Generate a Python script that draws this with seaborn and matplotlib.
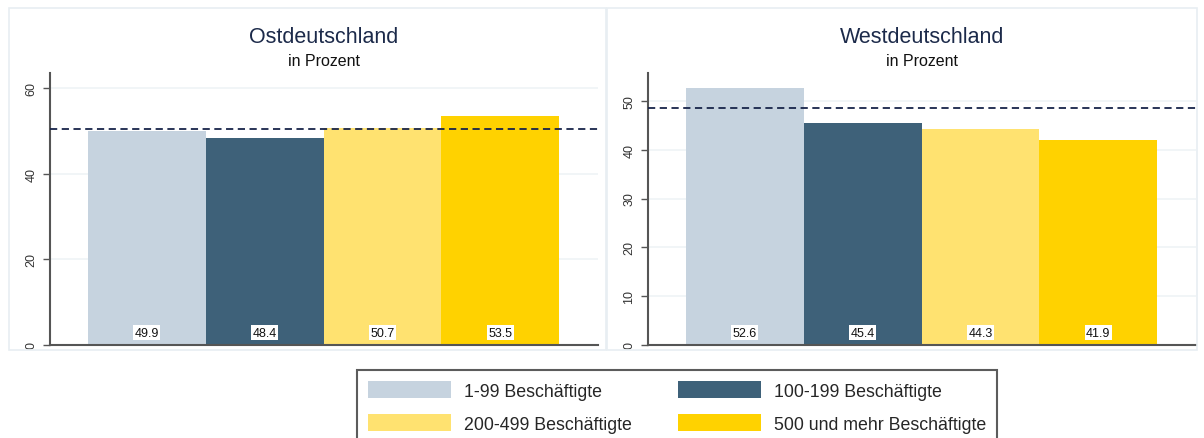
import pandas as pd
import matplotlib
matplotlib.use("Agg")
import matplotlib.pyplot as plt
from matplotlib.patches import Rectangle, Patch
import seaborn as sns

# data
groups = ["1-99 Beschäftigte", "100-199 Beschäftigte",
          "200-499 Beschäftigte", "500 und mehr Beschäftigte"]
ost_values = [49.9, 48.4, 50.7, 53.5]
west_values = [52.6, 45.4, 44.3, 41.9]
ost_mean = 50.5
west_mean = 48.6
colors = ["#c6d3df", "#3e6179", "#ffe270", "#ffd200"]

panels = [
    ("Ostdeutschland", ost_values, ost_mean, [0, 20, 40, 60], 63.5),
    ("Westdeutschland", west_values, west_mean, [0, 10, 20, 30, 40, 50], 55.7),
]

sns.set_style("white")
plt.rcParams["font.family"] = ["Liberation Sans", "DejaVu Sans"]

W, H = 1204, 439
fig = plt.figure(figsize=(W / 100, H / 100), dpi=100)

# panel frames (stata-like)
for x0, x1 in [(9, 606), (607, 1197)]:
    fig.patches.append(Rectangle((x0 / W, 1 - 351 / H), (x1 - x0) / W, (351 - 9) / H,
                                 transform=fig.transFigure, fill=False,
                                 edgecolor="#e8eef2", linewidth=1.2))

ax_pos = [(50, 598), (648, 1196)]
for (title, vals, mean, ticks, ytop), (px0, px1) in zip(panels, ax_pos):
    ax = fig.add_axes([px0 / W, (H - 346) / H, (px1 - px0) / W, (346 - 74) / H])
    df = pd.DataFrame({"group": groups, "value": vals})
    sns.barplot(data=df, x="group", y="value", hue="group", palette=colors,
                width=1.0, dodge=False, legend=False, saturation=1, ax=ax)
    for p in ax.patches:
        p.set_edgecolor("none")
    ax.set_xlim(-0.5 - 38 / 118, 3.5 + 39 / 118)
    ax.set_ylim(0, ytop)
    ax.set_yticks(ticks)
    ax.set_yticklabels([str(t) for t in ticks], rotation=90, va="center",
                       fontsize=9, color="#333333")
    ax.set_xticks([])
    ax.set_xlabel("")
    ax.set_ylabel("")
    ax.yaxis.grid(True, color="#f0f4f7", linewidth=1.3)
    ax.set_axisbelow(True)
    ax.tick_params(axis="y", left=True, length=5, width=1, color="#555555", pad=4)
    for s in ["top", "right"]:
        ax.spines[s].set_visible(False)
    for s in ["left", "bottom"]:
        ax.spines[s].set_color("#555555")
        ax.spines[s].set_linewidth(1.5)
    ax.axhline(mean, color="#18244a", linestyle=(0, (4, 2.5)), linewidth=1.3, zorder=5)
    for p, v in zip(ax.patches, vals):
        ax.text(p.get_x() + p.get_width() / 2, ytop * 0.045, f"{v:.1f}",
                ha="center", va="center", fontsize=9, color="#111111",
                bbox=dict(facecolor="white", edgecolor="none", pad=1.0))
    ax.text(0.5, (346 - 38) / 272, title, transform=ax.transAxes, ha="center",
            va="center", fontsize=15.5, color="#1c2a4a")
    ax.text(0.5, (346 - 62) / 272, "in Prozent", transform=ax.transAxes, ha="center",
            va="center", fontsize=11.5, color="#111111")

handles = [Patch(facecolor=c, edgecolor="none", label=g) for c, g in zip(colors, groups)]
handles = [handles[0], handles[2], handles[1], handles[3]]
leg = fig.legend(handles=handles, ncol=2, loc="upper left",
                 bbox_to_anchor=(357 / W, 1 - 371 / H), fontsize=12.8,
                 frameon=True, fancybox=False, handlelength=4.7, handleheight=1.15,
                 handletextpad=0.7, columnspacing=2.6, borderpad=0.6,
                 labelspacing=0.8, borderaxespad=0)
leg.get_frame().set_edgecolor("#333333")
leg.get_frame().set_linewidth(1.5)

fig.savefig("out.png", dpi=100)
